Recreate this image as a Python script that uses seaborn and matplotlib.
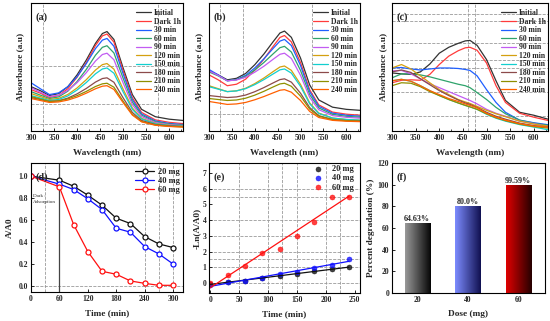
import numpy as np
import pandas as pd
import seaborn as sns
import matplotlib.pyplot as plt
from matplotlib.colors import LinearSegmentedColormap
from matplotlib.ticker import MultipleLocator

sns.set_theme(style="ticks")
plt.rcParams["font.family"] = ["Liberation Serif", "DejaVu Serif"]
plt.rcParams["font.weight"] = "bold"
plt.rcParams["axes.labelweight"] = "bold"

# ---- UV-vis spectra (a), (b), (c) ----
wavelength = [300, 320, 340, 360, 380, 400, 420, 440, 455, 465, 480, 500, 520, 540, 570, 600, 630]
spec_labels = ["Initial", "Dark 1h", "30 min", "60 min", "90 min", "120 min",
               "150 min", "180 min", "210 min", "240 min"]
spec_colors = ["#333333", "#ff3b3b", "#1f5fff", "#2ea36b", "#c25cf2", "#d4a010",
               "#12cfcf", "#8c4a4a", "#8f8f00", "#ff6000"]

spec_a = [
    [.45, .41, .36, .38, .45, .57, .72, .89, .99, 1.01, .93, .64, .37, .22, .145, .12, .107],
    [.42, .385, .34, .36, .43, .546, .695, .869, .966, .985, .903, .612, .339, .189, .113, .088, .075],
    [.49, .43, .37, .387, .45, .552, .684, .837, .923, .94, .861, .581, .319, .174, .102, .077, .065],
    [.40, .365, .33, .346, .405, .502, .625, .77, .85, .866, .793, .536, .294, .161, .094, .071, .06],
    [.44, .395, .35, .363, .412, .491, .592, .711, .777, .79, .724, .489, .268, .147, .086, .065, .055],
    [.38, .35, .32, .331, .371, .437, .521, .619, .674, .685, .628, .425, .234, .129, .077, .059, .05],
    [.36, .335, .31, .32, .356, .416, .492, .581, .63, .64, .587, .397, .22, .122, .073, .056, .048],
    [.34, .32, .30, .307, .334, .377, .432, .497, .533, .54, .495, .337, .189, .107, .066, .052, .045],
    [.35, .325, .30, .306, .326, .359, .402, .452, .479, .485, .445, .303, .17, .097, .061, .048, .042],
    [.33, .31, .29, .295, .314, .344, .384, .429, .455, .46, .422, .288, .162, .093, .058, .046, .04],
]
spec_b = [
    [.61, .57, .52, .535, .584, .673, .782, .906, .995, 1.015, .951, .741, .468, .315, .242, .22, .21],
    [.57, .52, .46, .475, .526, .618, .73, .858, .95, .97, .905, .695, .419, .265, .192, .171, .16],
    [.625, .57, .51, .523, .565, .64, .733, .838, .913, .93, .868, .665, .40, .251, .181, .16, .15],
    [.60, .56, .51, .52, .556, .619, .696, .783, .846, .86, .802, .615, .37, .234, .169, .149, .14],
    [.61, .565, .51, .518, .546, .597, .658, .728, .779, .79, .737, .566, .341, .216, .156, .139, .13],
    [.46, .43, .40, .408, .434, .481, .538, .603, .65, .66, .616, .473, .286, .182, .132, .117, .11],
    [.45, .425, .40, .407, .43, .471, .522, .579, .621, .63, .588, .453, .276, .178, .131, .117, .11],
    [.36, .35, .34, .346, .365, .399, .441, .488, .522, .53, .496, .384, .238, .156, .117, .106, .10],
    [.33, .32, .31, .315, .333, .364, .403, .447, .478, .485, .454, .354, .223, .15, .115, .105, .10],
    [.30, .285, .27, .275, .29, .317, .35, .387, .414, .42, .394, .31, .199, .137, .108, .099, .095],
]
spec_c = [
    [.59, .58, .575, .60, .68, .79, .85, .89, .915, .92, .87, .725, .51, .31, .19, .16, .12],
    [.49, .515, .52, .515, .575, .675, .76, .815, .845, .85, .82, .69, .46, .29, .18, .14, .107],
    [.64, .645, .63, .62, .63, .64, .64, .635, .625, .615, .56, .42, .29, .19, .11, .084, .064],
    [.54, .58, .58, .57, .55, .525, .50, .475, .46, .44, .39, .32, .24, .175, .11, .08, .057],
    [.61, .615, .58, .53, .48, .44, .40, .36, .33, .31, .275, .22, .18, .15, .10, .075, .047],
    [.64, .675, .63, .56, .49, .42, .37, .32, .295, .28, .25, .21, .175, .145, .10, .07, .05],
    [.51, .525, .505, .46, .41, .36, .32, .285, .26, .245, .22, .17, .13, .10, .065, .04, .013],
    [.60, .62, .595, .53, .47, .41, .36, .315, .285, .27, .24, .19, .15, .12, .08, .055, .04],
    [.46, .49, .485, .45, .40, .36, .32, .285, .26, .245, .22, .175, .135, .105, .07, .045, .03],
    [.51, .525, .505, .46, .41, .37, .33, .30, .275, .26, .235, .18, .14, .11, .075, .05, .04],
]
grid_a = ([325, 575], [0.66, 0.27, 0.07])
grid_b = ([325, 375, 525], [0.17])
grid_c = ([460, 475], [1.19, 1.12, 0.89, 0.725, 0.64, 0.40, 0.157])

# ---- (d) A/A0 vs time ----
doses = ["20 mg", "40 mg", "60 mg"]
dose_colors = ["#111111", "#1010ff", "#ff1010"]
time_d = [0, 60, 90, 120, 150, 180, 210, 240, 270, 300]
ratio_20 = [1.0, 0.963, 0.908, 0.826, 0.735, 0.616, 0.567, 0.448, 0.381, 0.348]
ratio_40 = [1.0, 0.927, 0.878, 0.793, 0.695, 0.524, 0.488, 0.357, 0.29, 0.198]
ratio_60 = [1.0, 0.902, 0.558, 0.311, 0.131, 0.104, 0.043, 0.021, 0.003, 0.003]

# ---- (e) kinetics ----
time_e = [0, 30, 60, 90, 120, 150, 180, 210, 240]
lnr_20 = [-0.05, 0.05, 0.15, 0.30, 0.45, 0.55, 0.75, 0.92, 1.0]
lnr_40 = [-0.15, 0.05, 0.15, 0.30, 0.55, 0.70, 0.95, 1.15, 1.52]
lnr_60 = [0.0, 0.5, 1.05, 1.9, 2.15, 3.0, 3.9, 5.5, 5.5]

# ---- (f) degradation ----
dose_mg = ["20", "40", "60"]
degradation = [64.63, 80.0, 99.59]
degradation_labels = ["64.63%", "80.0%", "99.59%"]
bar_grads = [("#9a9a9a", "#050505"), ("#7d8cff", "#101050"), ("#e00000", "#250000")]

TICK = 5.5
LAB = 6.7

fig = plt.figure(figsize=(5.5, 3.21), dpi=100)


def add_ax(l, t, r, b):
    return fig.add_axes([l / 550, 1 - b / 321, (r - l) / 550, (b - t) / 321])


def frame(ax, tag):
    for s in ax.spines.values():
        s.set_visible(True)
        s.set_color("black")
        s.set_linewidth(0.8)
    ax.tick_params(direction="in", labelsize=TICK, width=0.7, length=2.5, pad=2)
    ax.tick_params(which="minor", direction="in", width=0.6, length=1.5)
    ax.text(0.03, 0.89, tag, transform=ax.transAxes, fontsize=7.3,
            fontweight="bold", va="center")


def spectra(ax, data, grid, tag, ylx):
    rows = []
    for lab, vals in zip(spec_labels, data):
        for w, v in zip(wavelength, vals):
            rows.append((lab, w, v))
    df = pd.DataFrame(rows, columns=["label", "wl", "A"])
    for gx in grid[0]:
        ax.axvline(gx, color="#9a9a9a", ls="--", lw=0.6, zorder=0)
    for gy in grid[1]:
        ax.axhline(gy, color="#9a9a9a", ls="--", lw=0.6, zorder=0)
    sns.lineplot(data=df, x="wl", y="A", hue="label", hue_order=spec_labels,
                 palette=spec_colors, estimator=None, sort=False, lw=0.9, ax=ax)
    ax.set_xlim(300, 630)
    ax.set_ylim(0, 1.3)
    ax.set_yticks([])
    ax.xaxis.set_major_locator(MultipleLocator(50))
    ax.xaxis.set_minor_locator(MultipleLocator(25))
    ax.set_xlabel("Wavelength (nm)", fontsize=LAB)
    ax.set_ylabel("Absorbance (a.u)", fontsize=LAB)
    ax.xaxis.set_label_coords(0.5, -0.14)
    ax.yaxis.set_label_coords(ylx, 0.5)
    h, l = ax.get_legend_handles_labels()
    ax.legend(h, l, loc="upper right", bbox_to_anchor=(1.0, 0.97), frameon=False,
              fontsize=5.5, labelspacing=0.07, handlelength=2.0, handletextpad=0.3,
              borderaxespad=0.2, borderpad=0.1)
    frame(ax, tag)


ax_a = add_ax(31, 3, 183, 131)
spectra(ax_a, spec_a, grid_a, "(a)", -0.046)
ax_b = add_ax(209, 3, 360, 131)
spectra(ax_b, spec_b, grid_b, "(b)", -0.04)
ax_c = add_ax(392, 3, 548, 131)
spectra(ax_c, spec_c, grid_c, "(c)", -0.032)

# ---- panel d ----
ax_d = add_ax(31, 163, 183, 292)
df_d = pd.DataFrame({
    "t": time_d * 3,
    "r": ratio_20 + ratio_40 + ratio_60,
    "dose": [d for d in doses for _ in time_d],
})
for gx in [30, 240, 270, 300]:
    ax_d.axvline(gx, color="#9a9a9a", ls="--", lw=0.6, zorder=0)
ax_d.axhline(0.0, color="#9a9a9a", ls="--", lw=0.6, zorder=0)
ax_d.axvline(60, color="#444444", lw=0.9, zorder=1)
sns.lineplot(data=df_d, x="t", y="r", hue="dose", hue_order=doses, palette=dose_colors,
             marker="o", markersize=3.6, lw=0.9, ax=ax_d)
for ln in ax_d.get_lines():
    if ln.get_marker() == "o":
        ln.set_markeredgecolor(ln.get_color())
        ln.set_markerfacecolor("white")
        ln.set_markeredgewidth(0.9)
ax_d.text(0.015, 0.72, "Dark :\nAdsorption", transform=ax_d.transAxes, fontsize=3.6,
          fontweight="normal", va="center", linespacing=1.6)
ax_d.set_xlim(0, 321)
ax_d.set_ylim(-0.058, 1.12)
ax_d.xaxis.set_major_locator(MultipleLocator(60))
ax_d.yaxis.set_major_locator(MultipleLocator(0.2))
ax_d.yaxis.set_major_formatter(plt.FormatStrFormatter("%.1f"))
ax_d.set_xlabel("Time (min)", fontsize=LAB)
ax_d.set_ylabel("A/A0", fontsize=LAB)
ax_d.xaxis.set_label_coords(0.5, -0.13)
ax_d.yaxis.set_label_coords(-0.112, 0.5)
h, l = ax_d.get_legend_handles_labels()
ax_d.legend(h, l, loc="upper right", bbox_to_anchor=(1.0, 0.99), frameon=False,
            fontsize=6, labelspacing=0.15, handlelength=2.3, handletextpad=0.4,
            borderaxespad=0.2, borderpad=0.2)
frame(ax_d, "(d)")

# ---- panel e ----
ax_e = add_ax(209, 163, 360, 293)
for gx in [50, 100, 125, 150, 200, 225]:
    ax_e.axvline(gx, color="#9a9a9a", ls="--", lw=0.6, zorder=0)
for gy in [0, 1, 1.5, 2, 3, 4, 5.5, 6]:
    ax_e.axhline(gy, color="#9a9a9a", ls="--", lw=0.6, zorder=0)
for lnr, col in zip([lnr_20, lnr_40, lnr_60], dose_colors):
    sns.regplot(x=np.array(time_e), y=np.array(lnr), ci=None, color=col, ax=ax_e,
                scatter_kws={"s": 13, "edgecolor": col, "linewidths": 0.4},
                line_kws={"lw": 0.9})
ax_e.set_xlim(-2, 259)
ax_e.set_ylim(-0.64, 7.64)
ax_e.xaxis.set_major_locator(MultipleLocator(50))
ax_e.yaxis.set_major_locator(MultipleLocator(1))
ax_e.set_xlabel("Time (min)", fontsize=LAB)
ax_e.set_ylabel("-Ln(A/A0)", fontsize=LAB)
ax_e.xaxis.set_label_coords(0.5, -0.13)
ax_e.yaxis.set_label_coords(-0.053, 0.5)
ax_e.legend(ax_e.collections[:3], doses, loc="upper right", bbox_to_anchor=(0.98, 1.01),
            frameon=False, fontsize=6, labelspacing=0.15, handletextpad=0.6,
            borderaxespad=0.2, borderpad=0.2, markerscale=1.0)
frame(ax_e, "(e)")

# ---- panel f ----
ax_f = add_ax(392, 163, 545, 293)
sns.barplot(x=dose_mg, y=degradation, hue=dose_mg, palette=[g[0] for g in bar_grads],
            legend=False, width=0.5, ax=ax_f)
grad = np.linspace(0, 1, 256).reshape(1, -1)
for patch, (c0, c1) in zip(ax_f.patches, bar_grads):
    x0, y0 = patch.get_x(), patch.get_y()
    w, h = patch.get_width(), patch.get_height()
    cmap = LinearSegmentedColormap.from_list("g", [c0, c1])
    im = ax_f.imshow(grad, extent=[x0, x0 + w, y0, y0 + h], aspect="auto",
                     cmap=cmap, origin="lower", zorder=2)
    im.set_clip_path(patch)
    patch.set_facecolor("none")
    patch.set_edgecolor("none")
for cont, lab in zip(ax_f.containers, degradation_labels):
    ax_f.bar_label(cont, labels=[lab], padding=0, fontsize=5.8, fontweight="bold")
ax_f.set_xlim(-0.5, 2.53)
ax_f.set_ylim(0, 120)
ax_f.yaxis.set_major_locator(MultipleLocator(20))
ax_f.set_xlabel("Dose (mg)", fontsize=LAB)
ax_f.set_ylabel("Percent degradation (%)", fontsize=LAB)
ax_f.xaxis.set_label_coords(0.5, -0.13)
ax_f.yaxis.set_label_coords(-0.11, 0.5)
frame(ax_f, "(f)")

fig.savefig("out.png", dpi=100)
